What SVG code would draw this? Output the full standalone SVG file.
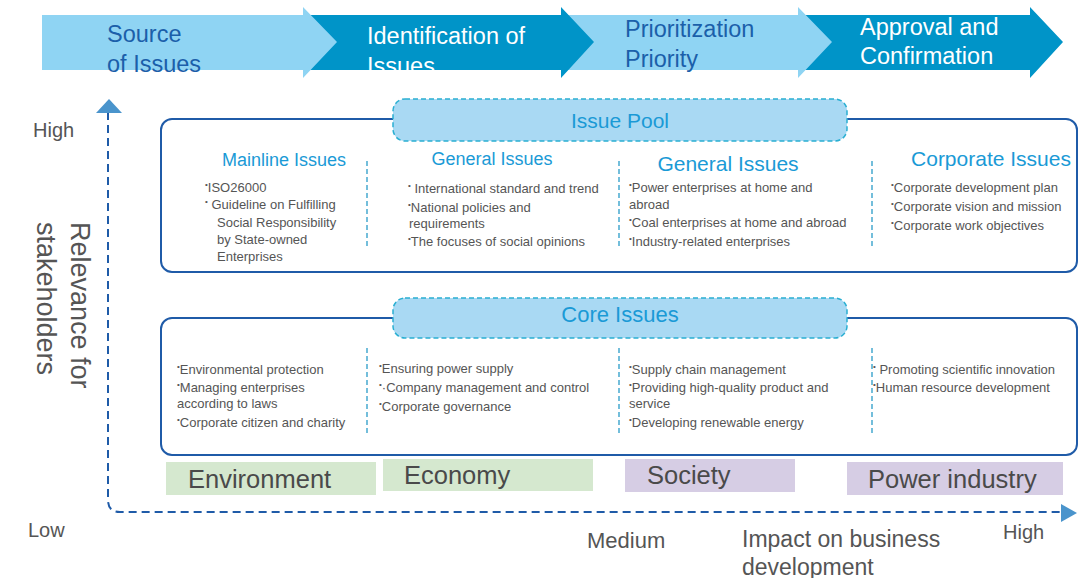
<svg xmlns="http://www.w3.org/2000/svg" width="1079" height="578" viewBox="0 0 1079 578">
<style>
text{font-family:"Liberation Sans",Arial,sans-serif}
.lt{fill:#8FD4F3}
.dk{fill:#0094C8}
.at{font-size:23.5px}
.atl{fill:#1B5FAA}
.atd{fill:#FFFFFF}
.box{fill:#FFFFFF;stroke:#1F5BA8;stroke-width:2}
.pill{fill:#A9D9F3;stroke:#2AAFD2;stroke-width:1.5;stroke-dasharray:5 3}
.ptxt{fill:#1A9AD6;text-anchor:middle}
.hd{fill:#1A9AD6}
.bl{font-size:13px;fill:#555555}
.d{font-size:8px}
.div{stroke:#2A9CC8;stroke-width:1.3;stroke-dasharray:5 3}
.green{fill:#D5E8CF}
.purple{fill:#D6CDE4}
.cat{font-size:25.5px;fill:#4A4A4A}
.ax{fill:none;stroke:#1F5BA8;stroke-width:2;stroke-dasharray:8 5}
.axh{fill:#4A94CC}
.axl{fill:#555555}
</style>
<defs>
<clipPath id="clipA2"><rect x="303" y="0" width="300" height="70"/></clipPath>
</defs>

<g id="process-arrows">
<g id="step4"><polygon class="dk" points="798,15 1030,15 1030,7 1063,42 1030,78 1030,70 798,70"/>
<text class="at atd" x="860" y="35">Approval and</text><text class="at atd" x="860" y="64">Confirmation</text></g>
<g id="step3"><polygon class="lt" points="561,15 798,15 798,7 832,42 798,78 798,70 561,70"/>
<text class="at atl" x="625" y="37">Prioritization</text><text class="at atl" x="625" y="67">Priority</text></g>
<g id="step2"><polygon class="dk" points="303,15 561,15 561,7 594,42 561,78 561,70 303,70"/>
<g clip-path="url(#clipA2)"><text class="at atd" x="367" y="44">Identification of</text><text class="at atd" x="367" y="74">Issues</text></g></g>
<g id="step1"><polygon class="lt" points="42,15 303,15 303,7 337,42 303,78 303,70 42,70"/>
<text class="at atl" x="107" y="42">Source</text><text class="at atl" x="107" y="72">of Issues</text></g>
</g>

<g id="connectors">
<path class="ax" d="M108,112 V500 Q108,512 120,512 H1062"/>
<polygon class="axh" points="96,113 109,99 122,113"/>
<polygon class="axh" points="1061,504 1077,513 1061,522"/>
</g>

<g id="axis-labels">
<text class="axl" x="33" y="137" font-size="20">High</text>
<text class="axl" x="28" y="537" font-size="20">Low</text>
<g transform="translate(71,222) rotate(90)">
<text class="axl" x="0" y="0" font-size="27">Relevance for</text>
<text class="axl" x="0" y="34" font-size="27">stakeholders</text>
</g>
<text class="axl" x="587" y="548" font-size="22">Medium</text>
<text class="axl" x="742" y="547" font-size="23">Impact on business</text>
<text class="axl" x="742" y="575" font-size="23">development</text>
<text class="axl" x="1003" y="539" font-size="20">High</text>
</g>

<g id="issue-pool">
<rect class="box" x="161" y="119" width="916" height="153" rx="11"/>
<line class="div" x1="367" y1="161" x2="367" y2="246"/>
<line class="div" x1="619" y1="161" x2="619" y2="246"/>
<line class="div" x1="872" y1="161" x2="872" y2="246"/>
<rect class="pill" x="393" y="99" width="454" height="42" rx="12"/>
<text class="ptxt" x="620" y="128" font-size="21">Issue Pool</text>
<text class="hd" x="284" y="166" font-size="18" text-anchor="middle">Mainline Issues</text>
<text class="hd" x="492" y="165" font-size="18" text-anchor="middle">General Issues</text>
<text class="hd" x="728" y="171" font-size="21" text-anchor="middle">General Issues</text>
<text class="hd" x="991" y="166" font-size="21" text-anchor="middle">Corporate Issues</text>
<text class="bl" x="205" y="192"><tspan class="d" dy="-5">•</tspan><tspan dy="5">ISO26000</tspan></text>
<text class="bl" x="205" y="209"><tspan class="d" dy="-5">•</tspan><tspan dy="5"> Guideline on Fulfilling</tspan></text>
<text class="bl" x="217" y="227">Social Responsibility</text>
<text class="bl" x="217" y="244">by State-owned</text>
<text class="bl" x="217" y="261">Enterprises</text>
<text class="bl" x="408" y="193"><tspan class="d" dy="-5">•</tspan><tspan dy="5"> International standard and trend</tspan></text>
<text class="bl" x="408" y="212"><tspan class="d" dy="-5">•</tspan><tspan dy="5">National policies and</tspan></text>
<text class="bl" x="409" y="228">requirements</text>
<text class="bl" x="408" y="246"><tspan class="d" dy="-5">•</tspan><tspan dy="5">The focuses of social opinions</tspan></text>
<text class="bl" x="629" y="192"><tspan class="d" dy="-5">•</tspan><tspan dy="5">Power enterprises at home and</tspan></text>
<text class="bl" x="629" y="209">abroad</text>
<text class="bl" x="629" y="227"><tspan class="d" dy="-5">•</tspan><tspan dy="5">Coal enterprises at home and abroad</tspan></text>
<text class="bl" x="629" y="246"><tspan class="d" dy="-5">•</tspan><tspan dy="5">Industry-related enterprises</tspan></text>
<text class="bl" x="891" y="192"><tspan class="d" dy="-5">•</tspan><tspan dy="5">Corporate development plan</tspan></text>
<text class="bl" x="891" y="211"><tspan class="d" dy="-5">•</tspan><tspan dy="5">Corporate vision and mission</tspan></text>
<text class="bl" x="891" y="230"><tspan class="d" dy="-5">•</tspan><tspan dy="5">Corporate work objectives</tspan></text>
</g>

<g id="core-issues">
<rect class="box" x="161" y="318" width="916" height="137" rx="11"/>
<line class="div" x1="367" y1="348" x2="367" y2="433"/>
<line class="div" x1="619" y1="348" x2="619" y2="433"/>
<line class="div" x1="872" y1="348" x2="872" y2="433"/>
<rect class="pill" x="393" y="298" width="454" height="40" rx="12"/>
<text class="ptxt" x="620" y="322" font-size="22">Core Issues</text>
<text class="bl" x="177" y="374"><tspan class="d" dy="-5">•</tspan><tspan dy="5">Environmental protection</tspan></text>
<text class="bl" x="177" y="392"><tspan class="d" dy="-5">•</tspan><tspan dy="5">Managing enterprises</tspan></text>
<text class="bl" x="177" y="408">according to laws</text>
<text class="bl" x="177" y="427"><tspan class="d" dy="-5">•</tspan><tspan dy="5">Corporate citizen and charity</tspan></text>
<text class="bl" x="379" y="373"><tspan class="d" dy="-5">•</tspan><tspan dy="5">Ensuring power supply</tspan></text>
<text class="bl" x="379" y="392"><tspan class="d" dy="-5">•</tspan><tspan dy="5">·Company management and control</tspan></text>
<text class="bl" x="379" y="411"><tspan class="d" dy="-5">•</tspan><tspan dy="5">Corporate governance</tspan></text>
<text class="bl" x="629" y="374"><tspan class="d" dy="-5">•</tspan><tspan dy="5">Supply chain management</tspan></text>
<text class="bl" x="629" y="392"><tspan class="d" dy="-5">•</tspan><tspan dy="5">Providing high-quality product and</tspan></text>
<text class="bl" x="629" y="408">service</text>
<text class="bl" x="629" y="427"><tspan class="d" dy="-5">•</tspan><tspan dy="5">Developing renewable energy</tspan></text>
<text class="bl" x="873" y="374"><tspan class="d" dy="-5">•</tspan><tspan dy="5"> Promoting scientific innovation</tspan></text>
<text class="bl" x="873" y="392"><tspan class="d" dy="-5">•</tspan><tspan dy="5">Human resource development</tspan></text>
</g>

<g id="cat-environment"><rect class="green" x="166" y="462" width="210" height="33"/><text class="cat" x="188" y="488">Environment</text></g>
<g id="cat-economy"><rect class="green" x="383" y="459" width="210" height="32"/><text class="cat" x="404" y="484">Economy</text></g>
<g id="cat-society"><rect class="purple" x="625" y="459" width="170" height="33"/><text class="cat" x="647" y="484">Society</text></g>
<g id="cat-power"><rect class="purple" x="847" y="462" width="216" height="33"/><text class="cat" x="868" y="488">Power industry</text></g>
</svg>
